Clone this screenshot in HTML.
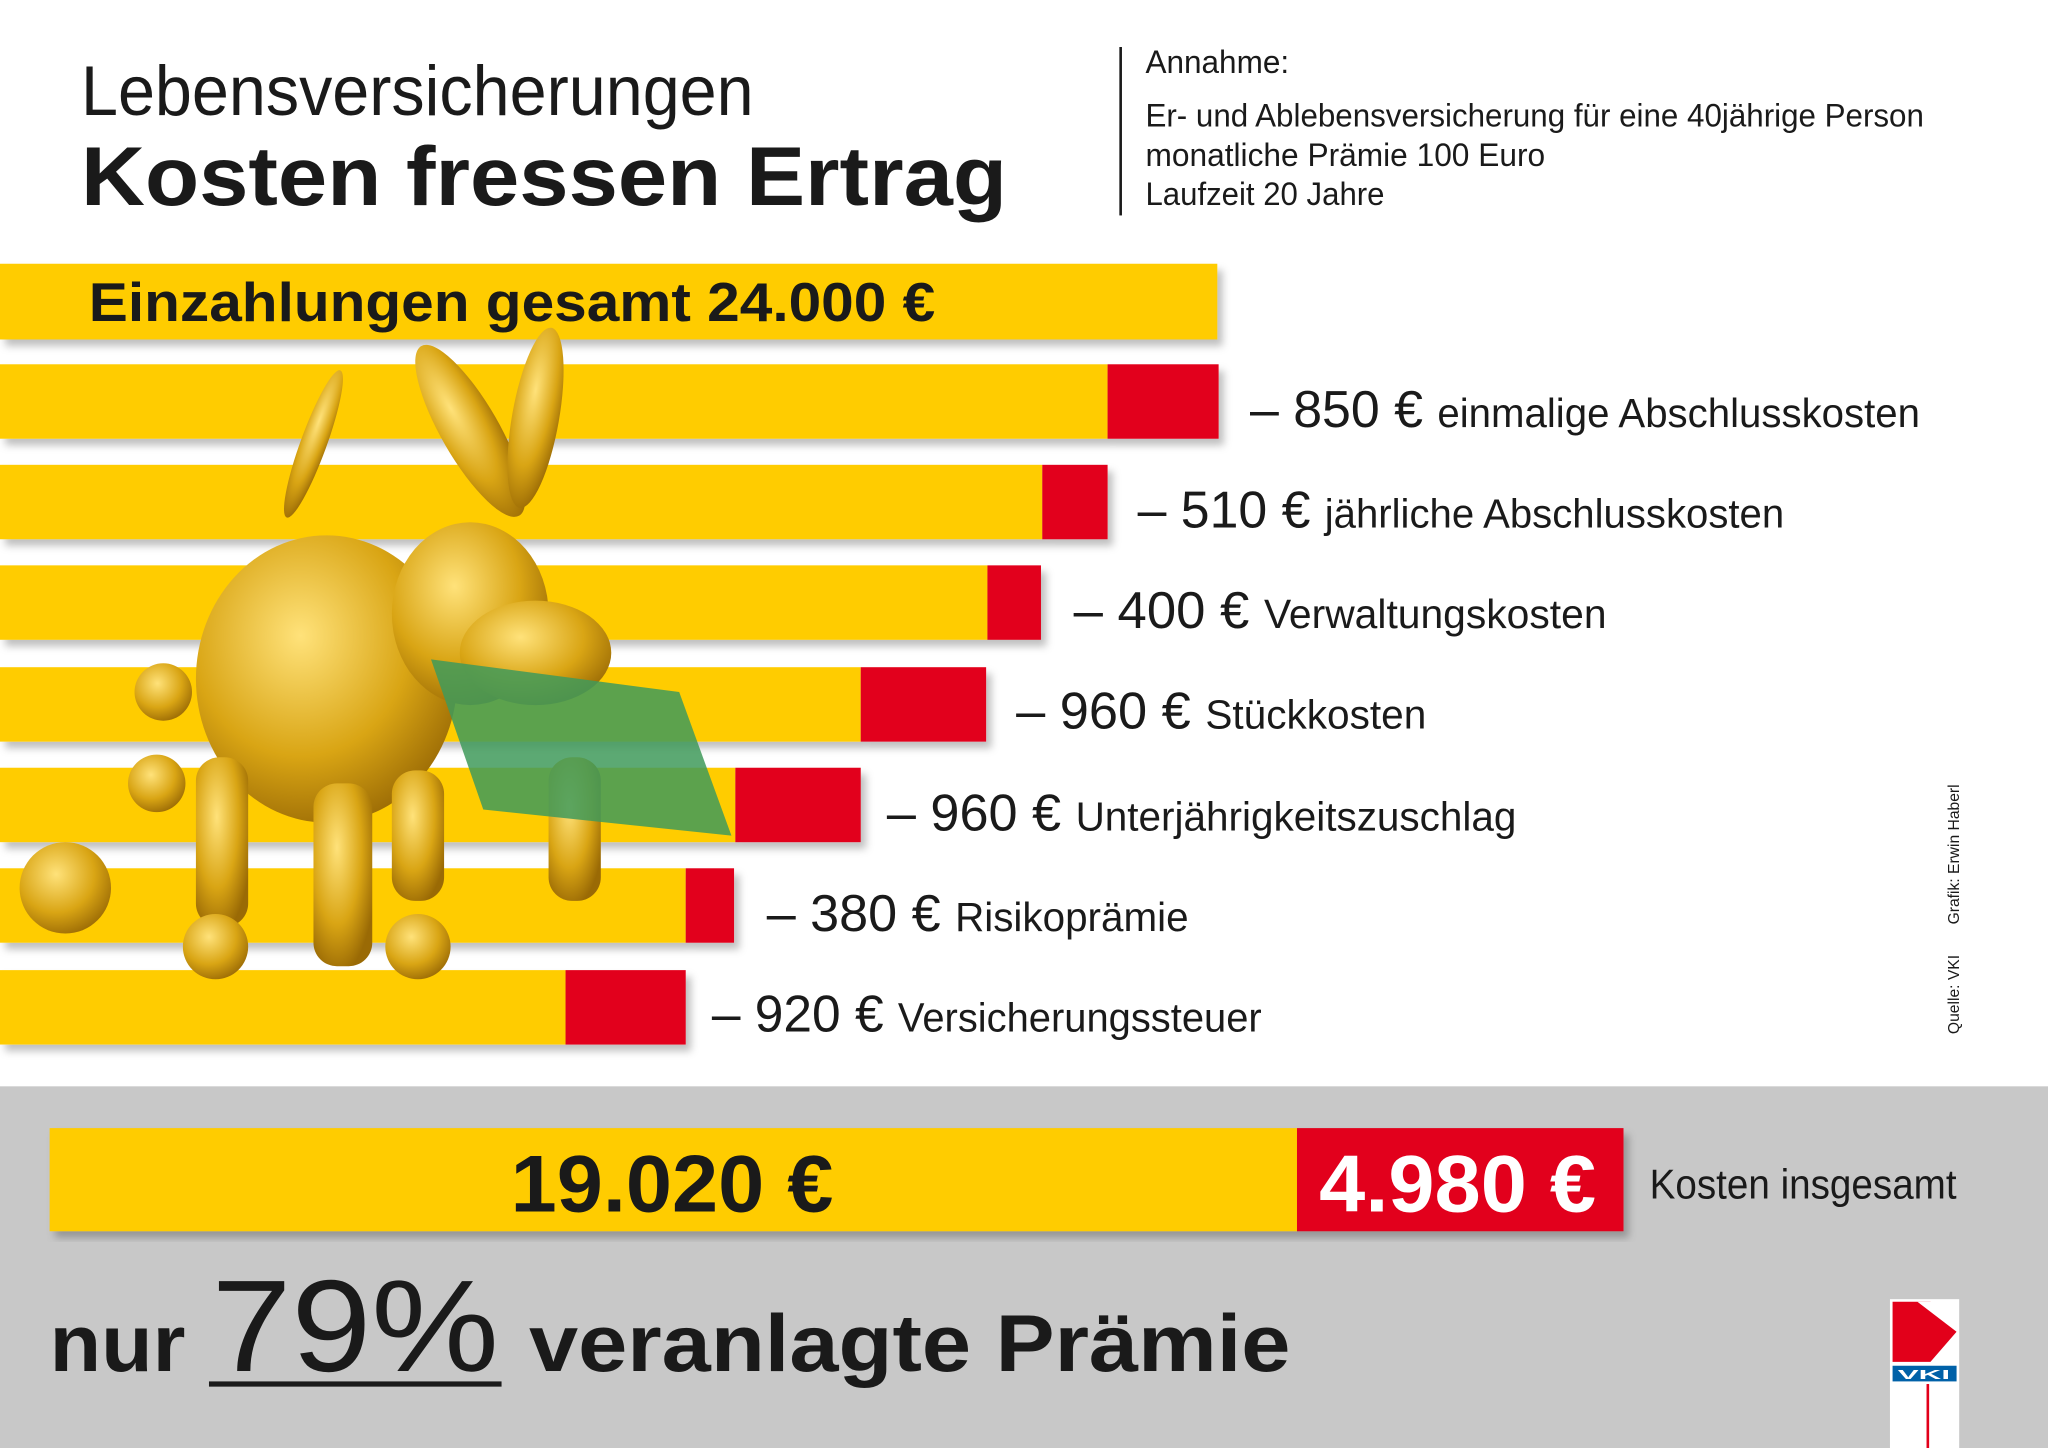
<!DOCTYPE html>
<html><head><meta charset="utf-8">
<style>
html,body{margin:0;padding:0;background:#fff;}
svg{display:block;}
text{font-family:"Liberation Sans",sans-serif;}
</style></head>
<body>
<svg width="2048" height="1448" viewBox="0 0 1568 1109" preserveAspectRatio="none" xmlns="http://www.w3.org/2000/svg">
<defs>
<radialGradient id="g" cx="0.4" cy="0.35" r="0.7">
<stop offset="0" stop-color="#ffe27a"/><stop offset="0.6" stop-color="#d9a514"/><stop offset="1" stop-color="#9a6a05"/>
</radialGradient>
<filter id="sh"><feDropShadow dx="4" dy="5" stdDeviation="3" flood-opacity="0.25"/></filter>
</defs>
<rect width="1568" height="1109" fill="#fff"/>
<text x="62" y="88" font-size="54" fill="#1a1a1a" textLength="515" lengthAdjust="spacingAndGlyphs">Lebensversicherungen</text>
<text x="62" y="157" font-size="64" font-weight="bold" fill="#1a1a1a" textLength="709" lengthAdjust="spacingAndGlyphs">Kosten fressen Ertrag</text>
<rect x="857" y="36" width="2" height="129" fill="#1a1a1a"/>
<g font-size="25" fill="#1a1a1a">
<text x="877" y="56" textLength="110" lengthAdjust="spacingAndGlyphs">Annahme:</text>
<text x="877" y="97" textLength="596" lengthAdjust="spacingAndGlyphs">Er- und Ablebensversicherung für eine 40jährige Person</text>
<text x="877" y="127" textLength="306" lengthAdjust="spacingAndGlyphs">monatliche Prämie 100 Euro</text>
<text x="877" y="157" textLength="183" lengthAdjust="spacingAndGlyphs">Laufzeit 20 Jahre</text>
</g>
<g filter="url(#sh)">
<rect x="0" y="202" width="932" height="58" fill="#FFCC00"/>
<rect x="0" y="279" width="848" height="57" fill="#FFCC00"/><rect x="848" y="279" width="85" height="57" fill="#E2001A"/>
<rect x="0" y="356" width="798" height="57" fill="#FFCC00"/><rect x="798" y="356" width="50" height="57" fill="#E2001A"/>
<rect x="0" y="433" width="756" height="57" fill="#FFCC00"/><rect x="756" y="433" width="41" height="57" fill="#E2001A"/>
<rect x="0" y="511" width="659" height="57" fill="#FFCC00"/><rect x="659" y="511" width="96" height="57" fill="#E2001A"/>
<rect x="0" y="588" width="563" height="57" fill="#FFCC00"/><rect x="563" y="588" width="96" height="57" fill="#E2001A"/>
<rect x="0" y="665" width="525" height="57" fill="#FFCC00"/><rect x="525" y="665" width="37" height="57" fill="#E2001A"/>
<rect x="0" y="743" width="433" height="57" fill="#FFCC00"/><rect x="433" y="743" width="92" height="57" fill="#E2001A"/>
</g>
<text x="68" y="246" font-size="42" font-weight="bold" fill="#1a1a1a" textLength="648" lengthAdjust="spacingAndGlyphs">Einzahlungen gesamt 24.000 €</text>
<!-- donkey approximation -->
<g fill="url(#g)">
<ellipse cx="250" cy="520" rx="100" ry="110"/>
<ellipse cx="360" cy="470" rx="60" ry="70"/>
<ellipse cx="410" cy="500" rx="58" ry="40"/>
<ellipse cx="360" cy="330" rx="22" ry="75" transform="rotate(-30 360 330)"/>
<ellipse cx="410" cy="320" rx="18" ry="70" transform="rotate(10 410 320)"/>
<rect x="150" y="580" width="40" height="130" rx="18"/>
<rect x="240" y="600" width="45" height="140" rx="18"/>
<rect x="300" y="590" width="40" height="100" rx="18"/>
<rect x="420" y="580" width="40" height="110" rx="18"/>
<ellipse cx="240" cy="340" rx="10" ry="60" transform="rotate(20 240 340)"/>
<circle cx="125" cy="530" r="22"/><circle cx="120" cy="600" r="22"/><circle cx="50" cy="680" r="35"/><circle cx="165" cy="725" r="25"/><circle cx="320" cy="725" r="25"/>
</g>
<path d="M330 505 L520 530 L560 640 L370 620 Z" fill="#3f9a5a" opacity="0.85"/>
<g fill="#1a1a1a">
<text x="957" y="327" font-size="40" textLength="513" lengthAdjust="spacingAndGlyphs">– 850 € <tspan font-size="31">einmalige Abschlusskosten</tspan></text>
<text x="871" y="404" font-size="40" textLength="495" lengthAdjust="spacingAndGlyphs">– 510 € <tspan font-size="31">jährliche Abschlusskosten</tspan></text>
<text x="822" y="481" font-size="40" textLength="408" lengthAdjust="spacingAndGlyphs">– 400 € <tspan font-size="31">Verwaltungskosten</tspan></text>
<text x="778" y="558" font-size="40" textLength="314" lengthAdjust="spacingAndGlyphs">– 960 € <tspan font-size="31">Stückkosten</tspan></text>
<text x="679" y="636" font-size="40" textLength="482" lengthAdjust="spacingAndGlyphs">– 960 € <tspan font-size="31">Unterjährigkeitszuschlag</tspan></text>
<text x="587" y="713" font-size="40" textLength="323" lengthAdjust="spacingAndGlyphs">– 380 € <tspan font-size="31">Risikoprämie</tspan></text>
<text x="545" y="790" font-size="40" textLength="421" lengthAdjust="spacingAndGlyphs">– 920 € <tspan font-size="31">Versicherungssteuer</tspan></text>
</g>
<g font-size="12" fill="#1a1a1a">
<text transform="translate(1500 792) rotate(-90)">Quelle: VKI</text>
<text transform="translate(1500 708) rotate(-90)">Grafik: Erwin Haberl</text>
</g>
<rect x="0" y="832" width="1568" height="277" fill="#C8C8C8"/>
<g filter="url(#sh)">
<rect x="38" y="864" width="955" height="79" fill="#FFCC00"/>
<rect x="993" y="864" width="250" height="79" fill="#E2001A"/>
</g>
<text x="391" y="928" font-size="62" font-weight="bold" fill="#1a1a1a" textLength="247" lengthAdjust="spacingAndGlyphs">19.020 €</text>
<text x="1010" y="928" font-size="62" font-weight="bold" fill="#fff" textLength="212" lengthAdjust="spacingAndGlyphs">4.980 €</text>
<text x="1263" y="918" font-size="32" fill="#1a1a1a" textLength="235" lengthAdjust="spacingAndGlyphs">Kosten insgesamt</text>
<text x="38" y="1050" font-size="62" font-weight="bold" fill="#1a1a1a" textLength="104" lengthAdjust="spacingAndGlyphs">nur</text>
<text x="162" y="1050" font-size="100" fill="#1a1a1a" textLength="220" lengthAdjust="spacingAndGlyphs">79%</text>
<rect x="160" y="1058" width="224" height="4" fill="#1a1a1a"/>
<text x="405" y="1050" font-size="62" font-weight="bold" fill="#1a1a1a" textLength="583" lengthAdjust="spacingAndGlyphs">veranlagte Prämie</text>
<rect x="1447" y="995" width="53" height="114" fill="#fff"/>
<path d="M1449 997 L1478 997 L1498 1020 L1478 1043 L1449 1043 Z" fill="#E2001A"/>
<path d="M1468 997 L1498 997 L1498 1020 Z" fill="#fff"/>
<rect x="1449" y="1046" width="49" height="12" fill="#0061A8"/>
<text x="1453" y="1056" font-size="10" font-weight="bold" fill="#fff" textLength="40" lengthAdjust="spacingAndGlyphs">VKI</text>
<rect x="1449" y="1060" width="49" height="49" fill="#fff"/>
<rect x="1475" y="1060" width="2" height="49" fill="#E2001A"/>
</svg>
</body></html>
